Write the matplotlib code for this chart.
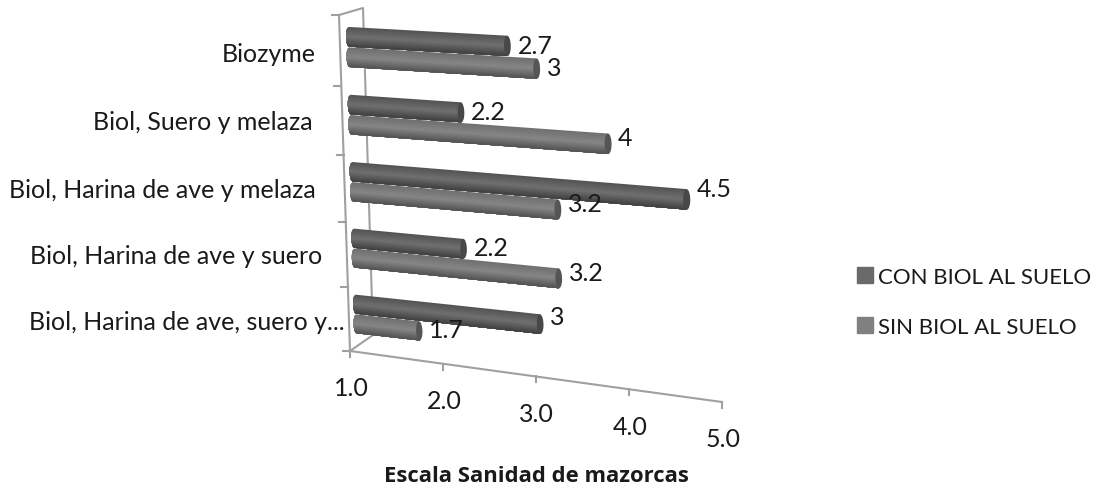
import matplotlib
matplotlib.use("Agg")
import matplotlib.pyplot as plt
import numpy as np
from matplotlib.patches import Patch
from matplotlib.transforms import Transform

plt.rcParams['font.family'] = ['Lato', 'DejaVu Sans']

############################## Datos ########################
categorias = ['Biol, Harina de ave, suero y...', 'Biol, Harina de ave y suero',
              'Biol, Harina de ave y melaza', 'Biol, Suero y melaza', 'Biozyme']
con_biol = [3.0, 2.2, 4.5, 2.2, 2.7]
sin_biol = [1.7, 3.2, 3.2, 3.72, 3.0]          # largo dibujado de cada barra
etiquetas_con = ['3', '2.2', '4.5', '2.2', '2.7']
etiquetas_sin = ['1.7', '3.2', '3.2', '4', '3']
ticks_x = [1.0, 2.0, 3.0, 4.0, 5.0]

# ajustes de las etiquetas, en pixeles
dy_con = [-8, -1, -11, -1, 0]
dy_sin = [-1, -6, -6, -6, -1]
fin_cat = [345, 322, 316, 313, 316]
y_cat = [322, 256, 191, 122, 55]

COLOR_CON = '#6a6a6a'
COLOR_SIN = '#808080'
TEXTO = '#1a1a1a'

################################## Perspectiva ############################
class Perspectiva(Transform):
    input_dims = 2
    output_dims = 2

    def __init__(self, origen, destino):
        super().__init__()
        A = []
        b = []
        for (u, v), (x, y) in zip(origen, destino):
            A.append([u, v, 1, 0, 0, 0, -u*x, -v*x])
            A.append([0, 0, 0, u, v, 1, -u*y, -v*y])
            b += [x, y]
        h = np.linalg.solve(np.array(A, float), np.array(b, float))
        self.H = np.append(h, 1).reshape(3, 3)

    def transform_non_affine(self, values):
        values = np.asarray(values, float)
        p = np.column_stack([values, np.ones(len(values))]) @ self.H.T
        return p[:, :2] / p[:, 2:]


esquinas = [(1, 0), (5, 0), (1, 4), (5, 4)]
plano_barras = Perspectiva(esquinas, [(356, 315), (738, 357), (349, 48), (738, 71)])
plano_frente = Perspectiva([(1, 0), (5, 0), (1, 5), (5, 5)],
                           [(350, 352), (722, 403), (339, 16), (736, 70)])
plano_fondo = Perspectiva([(0, 0), (1, 0), (0, 5), (1, 5)],
                          [(350, 352), (373, 336), (339, 16), (363, 9)])

fig = plt.figure(figsize=(10.96, 4.89), dpi=100)
ax = fig.add_axes([0, 0, 1, 1])
ax.set_xlim(0, 1096)
ax.set_ylim(489, 0)
ax.axis('off')

################################## Ejes ############################
gris = '#a0a0a0'
t_frente = plano_frente + ax.transData
t_fondo = plano_fondo + ax.transData
ax.plot([1, 5], [0, 0], color=gris, lw=1.5, transform=t_frente)
ax.plot([1, 1], [0, 5], color=gris, lw=1.5, transform=t_frente)
ax.plot([0, 1, 1, 0], [0, 0, 5, 5], color=gris, lw=1.5, transform=t_fondo)
for v in ticks_x:
    x, y = plano_frente.transform([(v, 0)])[0]
    ax.plot([x, x], [y, y+6], color=gris, lw=1.5)
    ax.text(x+1, y+37, f'{v:.1f}', ha='center', va='center', fontsize=18, color=TEXTO)
for c in range(6):
    x, y = plano_frente.transform([(1, c)])[0]
    ax.plot([x-7, x], [y, y], color=gris, lw=1.5)

################################## Barras ############################
def barra(valor, centro, claro, medio, oscuro, tapa):
    r = 0.145
    t_b = plano_barras + ax.transData
    n = 18
    # cada franja llega hasta abajo y la siguiente la tapa, asi no quedan rayas
    for k in range(n):
        s = k/(n-1)
        if s < 0.5:
            g = claro + (medio-claro)*s*2
        else:
            g = medio + (oscuro-medio)*(s-0.5)*2
        arriba = r - 2*r*k/n
        u = np.linspace(arriba, -r, 12)
        base = 1 - 0.03*np.sqrt(np.clip(1-(u/r)**2, 0, 1))
        vs = np.concatenate([[valor, valor], base[::-1]])
        cs = np.concatenate([[arriba, -r], u[::-1]]) + centro
        ax.fill(vs, cs, color=(g/255,)*3, lw=0, zorder=3, transform=t_b)
    a = np.linspace(0, 2*np.pi, 40)
    ax.fill(valor+0.035*np.cos(a), centro+r*np.sin(a), color=(tapa/255,)*3, lw=0,
            zorder=3, transform=t_b)


sep = 0.15
for c in range(len(categorias)):
    barra(sin_biol[c], c-sep, 112, 134, 84, 85)
for c in range(len(categorias)):
    barra(con_biol[c], c+sep, 84, 112, 66, 72)

for c in range(len(categorias)):
    x, y = plano_barras.transform([(con_biol[c], c+sep)])[0]
    ax.text(x+10, y+dy_con[c], etiquetas_con[c], va='center', fontsize=18, color=TEXTO, zorder=5)
    x, y = plano_barras.transform([(sin_biol[c], c-sep)])[0]
    ax.text(x+10, y+dy_sin[c], etiquetas_sin[c], va='center', fontsize=18, color=TEXTO, zorder=5)
    ax.text(fin_cat[c], y_cat[c], categorias[c], ha='right', va='center', fontsize=18, color=TEXTO)

ax.text(536, 477, 'Escala Sanidad de mazorcas', ha='center', va='center',
        fontsize=15.8, fontweight='bold', color=TEXTO, family=['Open Sans', 'DejaVu Sans'])

###################### Leyenda ######################
ax.legend(handles=[Patch(color=COLOR_CON, label='CON BIOL AL SUELO'),
                   Patch(color=COLOR_SIN, label='SIN BIOL AL SUELO')],
          loc='center left', bbox_to_anchor=(857, 303), bbox_transform=ax.transData,
          frameon=False, fontsize=16, labelspacing=1.36, handlelength=0.72,
          handleheight=0.72, handletextpad=0.23, borderpad=0, borderaxespad=0,
          labelcolor=TEXTO)

fig.savefig('out.png', dpi=100)
